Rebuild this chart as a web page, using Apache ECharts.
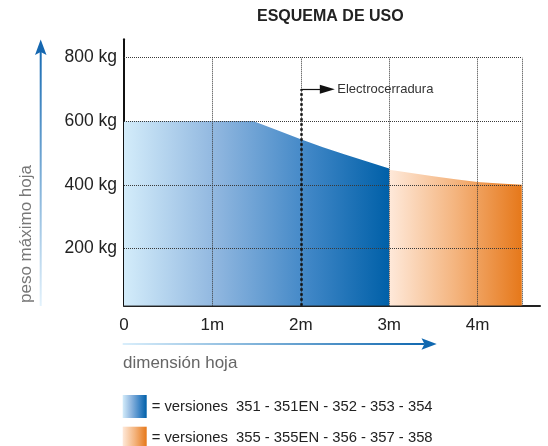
<!DOCTYPE html>
<html>
<head>
<meta charset="utf-8">
<script src="https://cdn.jsdelivr.net/npm/echarts@6/dist/echarts.min.js"></script>
<style>
html,body{margin:0;padding:0;background:#fff;}
#chart{width:548px;height:446px;}
</style>
</head>
<body>
<div id="chart"></div>
<script>
// ---- data ----
const titleText = 'ESQUEMA DE USO';
const yTitle = 'peso máximo hoja';
const xTitle = 'dimensión hoja';
const blueName = '= versiones  351 - 351EN - 352 - 353 - 354';
const orangeName = '= versiones  355 - 355EN - 356 - 357 - 358';
const blueX = [0, 0.5, 1, 1.46, 1.75, 2, 2.25, 2.5, 2.75, 3];
const blueY = [600, 600, 600, 600, 570, 543, 518, 495, 473, 451];
const orangeX = [3, 3.25, 3.5, 3.75, 4, 4.25, 4.5];
const orangeY = [447, 437, 427, 417, 409, 404, 400];
const xTicks = [0, 1, 2, 3, 4];
const xTickLabels = ['0', '1m', '2m', '3m', '4m'];
const yTicks = [200, 400, 600, 800];
const yTickLabels = ['200 kg', '400 kg', '600 kg', '800 kg'];
const gridXs = [1, 2, 3, 4, 4.5];
const gridYs = [200, 400, 600, 800];
const xMin = 0, xMax = 4.706, yMin = 20, yMax = 857;
const gridXEnd = 4.5, gridYEnd = 800;
const lockX = 2, lockTopY = 700, lockArrowEndX = 2.3;
const lockLabel = 'Electrocerradura';

const G = echarts.graphic.LinearGradient;
const blueGrad = () => new G(0, 0, 1, 0, [
  {offset: 0, color: '#d3ecfa'},
  {offset: 0.35, color: '#8fb6df'},
  {offset: 0.7, color: '#3f86c6'},
  {offset: 1, color: '#0060a8'}
]);
const orangeGrad = () => new G(0, 0, 1, 0, [
  {offset: 0, color: '#fee9da'},
  {offset: 0.5, color: '#f4b47e'},
  {offset: 1, color: '#e6781a'}
]);

const gridLines = [];
gridYs.forEach(v => gridLines.push([{coord: [xMin, v]}, {coord: [gridXEnd, v]}]));
gridXs.forEach(v => gridLines.push([{coord: [v, yMin]}, {coord: [v, gridYEnd]}]));

const chart = echarts.init(document.getElementById('chart'), null, {renderer: 'canvas'});
const baseFont = 'Liberation Sans, Arial, Helvetica, sans-serif';
const legendBase = {
  orient: 'vertical', left: 122.7, itemWidth: 24, itemHeight: 23, padding: 0,
  icon: 'rect', selectedMode: false,
  textStyle: {fontSize: 14.8, color: '#222', fontFamily: baseFont}
};

chart.setOption({
  animation: false,
  title: {
    text: titleText, left: 257, top: 9, padding: 0,
    textStyle: {fontSize: 16, fontWeight: 'bold', color: '#222', fontFamily: baseFont}
  },
  grid: {left: 124, right: 8, top: 39.3, bottom: 140.3, containLabel: false},
  legend: [
    Object.assign({}, legendBase, {top: 395, data: [{name: blueName, itemStyle: {color: blueGrad()}}]}),
    Object.assign({}, legendBase, {top: 426.7, data: [{name: orangeName, itemStyle: {color: orangeGrad()}}]})
  ],
  xAxis: {
    type: 'value', min: xMin, max: xMax,
    axisLine: {show: true, onZero: false, lineStyle: {color: '#222', width: 2}},
    axisTick: {show: false},
    splitLine: {show: false},
    axisLabel: {
      customValues: xTicks, margin: 11, fontSize: 17, color: '#222', fontFamily: baseFont,
      formatter: v => xTickLabels[xTicks.indexOf(v)] ?? ''
    }
  },
  yAxis: {
    type: 'value', min: yMin, max: yMax,
    axisLine: {show: true, onZero: false, lineStyle: {color: '#111', width: 2}},
    axisTick: {show: false},
    splitLine: {show: false},
    axisLabel: {
      customValues: yTicks, margin: 7, fontSize: 17.5, color: '#222', fontFamily: baseFont,
      formatter: v => yTickLabels[yTicks.indexOf(v)] ?? ''
    }
  },
  series: [
    {
      name: blueName, type: 'line', data: blueX.map((x, i) => [x, blueY[i]]),
      showSymbol: false, symbol: 'none', lineStyle: {width: 0},
      itemStyle: {color: '#4a8fcc'},
      areaStyle: {origin: 'start', color: blueGrad(), opacity: 1}, z: 2
    },
    {
      name: orangeName, type: 'line', data: orangeX.map((x, i) => [x, orangeY[i]]),
      showSymbol: false, symbol: 'none', lineStyle: {width: 0},
      itemStyle: {color: '#f0a060'},
      areaStyle: {origin: 'start', color: orangeGrad(), opacity: 1}, z: 2
    },
    {
      name: 'grid', type: 'line', data: [], z: 5, silent: true,
      markLine: {
        silent: true, symbol: 'none', animation: false,
        label: {show: false},
        lineStyle: {type: 'dotted', color: '#3a3a3a', width: 1},
        emphasis: {disabled: true},
        data: gridLines
      }
    },
    {
      name: 'lock', type: 'line', data: [], z: 6, silent: true,
      markLine: {
        silent: true, animation: false, emphasis: {disabled: true},
        data: [
          [
            {coord: [lockX, yMin], symbol: 'none', lineStyle: {type: 'dotted', color: '#111', width: 2.5}, label: {show: false}},
            {coord: [lockX, lockTopY], symbol: 'none'}
          ],
          [
            {coord: [lockX, lockTopY], symbol: 'none', lineStyle: {type: 'solid', color: '#111', width: 1.2},
             label: {show: true, position: 'end', distance: 10, formatter: lockLabel, fontSize: 13, color: '#333', fontFamily: baseFont}},
            {coord: [lockArrowEndX, lockTopY], symbol: 'triangle', symbolSize: [9, 15]}
          ]
        ]
      }
    }
  ],
  graphic: [
    {type: 'rect', shape: {x: 39.7, y: 52, width: 2, height: 254}, style: {fill: new G(0, 0, 0, 1, [{offset: 0, color: '#1a6db4'}, {offset: 1, color: '#e3f2fc'}])}, silent: true},
    {type: 'polygon', shape: {points: [[40.7, 39.5], [35, 55], [40.7, 52], [46.5, 55]]}, style: {fill: '#1567b0'}, silent: true},
    {type: 'rect', shape: {x: 122.7, y: 343, width: 302, height: 2}, style: {fill: new G(0, 0, 1, 0, [{offset: 0, color: '#d9eefb'}, {offset: 1, color: '#1068b0'}])}, silent: true},
    {type: 'polygon', shape: {points: [[436.7, 344], [421.5, 338.3], [424.5, 344], [421.5, 349.7]]}, style: {fill: '#1068b0'}, silent: true},
    {type: 'text', x: 26, y: 234, rotation: Math.PI / 2, silent: true,
     style: {text: yTitle, fontSize: 17, fontFamily: baseFont, fill: '#777', align: 'center', verticalAlign: 'middle'}},
    {type: 'text', x: 123, y: 363.3, silent: true,
     style: {text: xTitle, fontSize: 17, fontFamily: baseFont, fill: '#666', align: 'left', verticalAlign: 'middle'}}
  ]
});
</script>
</body>
</html>
